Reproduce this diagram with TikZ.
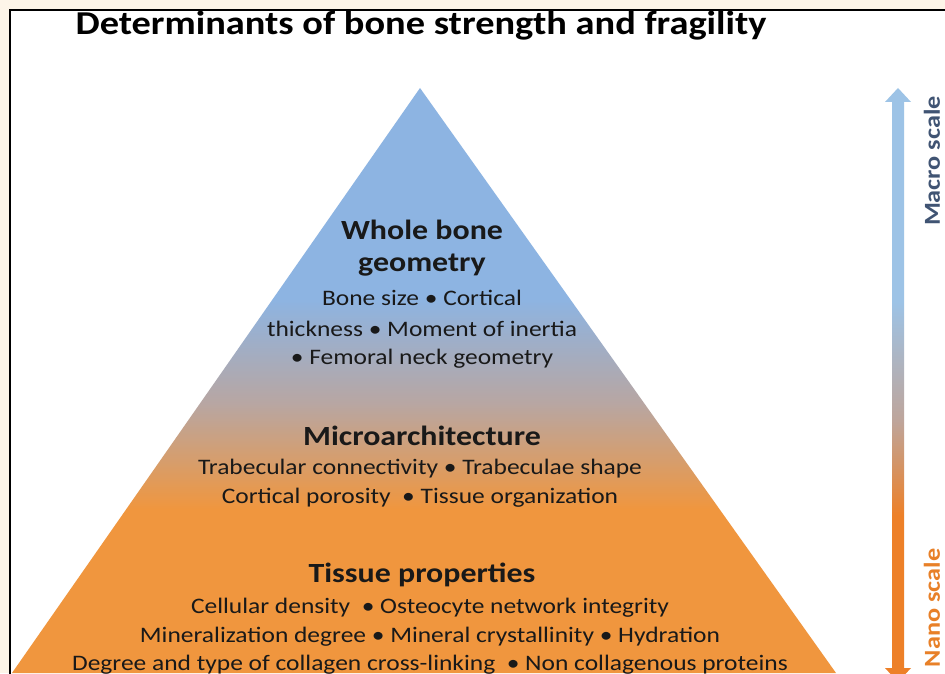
\documentclass[tikz,border=0pt]{standalone}
\usepackage{fontspec}
\setmainfont[FakeStretch=1.15]{Carlito}
\usetikzlibrary{positioning}
\definecolor{BoneBlue}{RGB}{141,180,226}
\definecolor{BoneGray}{RGB}{184,166,162}
\definecolor{BoneOrange}{RGB}{240,150,62}
\definecolor{ScaleBlue}{RGB}{157,195,230}
\definecolor{ScaleGray}{RGB}{190,165,155}
\definecolor{ScaleOrange}{RGB}{237,128,40}
\definecolor{MacroText}{RGB}{64,84,115}
\definecolor{NanoText}{RGB}{232,128,40}
\definecolor{PageCream}{RGB}{253,245,232}
\definecolor{TextDark}{RGB}{25,25,25}
\pgfdeclareverticalshading{pyramidshade}{100bp}{color(0bp)=(BoneOrange);
  color(39bp)=(BoneOrange); color(48bp)=(BoneGray); color(57bp)=(BoneBlue);
  color(100bp)=(BoneBlue)}
\pgfdeclareverticalshading{scaleshade}{100bp}{color(0bp)=(ScaleOrange);
  color(39bp)=(ScaleOrange); color(47bp)=(ScaleGray); color(57bp)=(ScaleBlue);
  color(100bp)=(ScaleBlue)}

\begin{document}
\begin{tikzpicture}[x=0.2mm, y=0.2mm,
    head/.style={font=\fontsize{15.8}{18}\selectfont\bfseries, text=TextDark,
                 anchor=base, inner sep=0pt},
    body/.style={font=\fontsize{12.6}{14}\selectfont, text=TextDark,
                 anchor=base, inner sep=0pt},
    scalelabel/.style={font=\fontsize{13}{15}\selectfont\bfseries,
                 rotate=90, inner sep=0pt}]
        % Page and frame
        \fill[PageCream] (0,0) rectangle (945,673);
        \useasboundingbox (0,0) rectangle (945,673);
        \begin{scope}
        \clip (0,0) rectangle (945,673);
        \filldraw[fill=white, draw=black, line width=1.2pt]
              (10,-20) rectangle (970,663);

        \node[font=\fontsize{19}{22}\selectfont\bfseries, anchor=base,
              inner sep=0pt] (title) at (421,638)
              {Determinants of bone strength and fragility};

        % Pyramid with blue to orange shading
        \shade[shading=pyramidshade] (12,0) -- (420,585) -- (836,0) -- cycle;

        % Whole bone geometry
        \node[head] (geo) at (422,433) {Whole bone};
        \node[head] (geo2) at (422,401) {geometry};
        \foreach \txt/\yb [count=\i] in {Bone size • Cortical/368,
              thickness • Moment of inertia/336,
              • Femoral neck geometry/308}
          \node[body] (geo-\i) at (422,\yb) {\txt};

        % Microarchitecture
        \node[head] (micro) at (422,228) {Microarchitecture};
        \foreach \txt/\yb [count=\i] in {Trabecular connectivity • Trabeculae shape/199,
              Cortical porosity~ • Tissue organization/170}
          \node[body] (micro-\i) at (420,\yb) {\txt};

        % Tissue properties
        \node[head] (tissue) at (422,91) {Tissue properties};
        \foreach \txt/\yb [count=\i] in {Cellular density~ • Osteocyte network integrity/60,
              Mineralization degree • Mineral crystallinity • Hydration/31,
              Degree and type of collagen cross-linking~ • Non collagenous proteins/3}
          \node[body] (tissue-\i) at (430,\yb) {\txt};

        % Scale arrow, macro at top, nano at bottom
        \shade[shading=scaleshade]
              (892,571) -- (885,571) -- (898,585) -- (911,571) -- (904,571)
              -- (904,5) -- (911,5) -- (898,-9) -- (885,5) -- (892,5) -- cycle;
        \node[scalelabel, text=MacroText] (macro) at (932,512) {Macro scale};
        \node[scalelabel, text=NanoText] (nano) at (932,65) {Nano scale};
        \end{scope}
      \end{tikzpicture}
\end{document}
